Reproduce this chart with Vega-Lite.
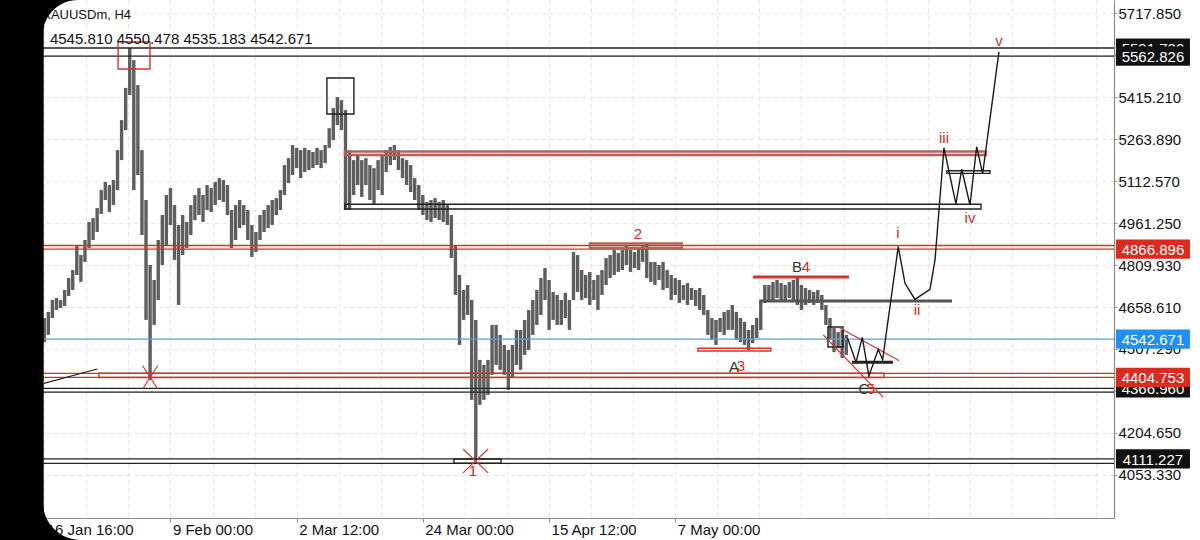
{
  "$schema": "https://vega.github.io/schema/vega-lite/v6.json",
  "width": 1114,
  "height": 518,
  "autosize": {"type": "none"},
  "padding": {"left": 0, "top": 0, "right": 86, "bottom": 22},
  "background": "white",
  "config": {"view": {"stroke": null}, "font": "Liberation Sans", "axis": {"title": null}},
  "resolve": {"axis": {"x": "independent"}},
  "datasets": {
    "one": [{}],
    "bars": [{"t":0,"hi":4619,"lo":4532},{"t":3,"hi":4641,"lo":4558},{"t":6,"hi":4684,"lo":4619},{"t":9,"hi":4691,"lo":4648},{"t":12,"hi":4684,"lo":4655},{"t":15,"hi":4720,"lo":4662},{"t":18,"hi":4763,"lo":4698},{"t":21,"hi":4792,"lo":4720},{"t":24,"hi":4882,"lo":4774},{"t":27,"hi":4846,"lo":4749},{"t":30,"hi":4900,"lo":4821},{"t":33,"hi":4965,"lo":4871},{"t":36,"hi":4979,"lo":4900},{"t":39,"hi":5015,"lo":4929},{"t":42,"hi":5080,"lo":4994},{"t":45,"hi":5109,"lo":5044},{"t":48,"hi":5098,"lo":5001},{"t":51,"hi":5116,"lo":5026},{"t":54,"hi":5224,"lo":5080},{"t":57,"hi":5332,"lo":5188},{"t":60,"hi":5448,"lo":5296},{"t":63,"hi":5592,"lo":5422},{"t":66,"hi":5548,"lo":5080},{"t":69,"hi":5458,"lo":5134},{"t":72,"hi":5224,"lo":4918},{"t":75,"hi":5044,"lo":4612},{"t":78,"hi":4810,"lo":4396},{"t":81,"hi":4756,"lo":4594},{"t":84,"hi":4900,"lo":4684},{"t":87,"hi":4990,"lo":4810},{"t":90,"hi":5062,"lo":4882},{"t":93,"hi":5087,"lo":4954},{"t":96,"hi":5026,"lo":4828},{"t":99,"hi":4954,"lo":4666},{"t":102,"hi":4990,"lo":4846},{"t":105,"hi":4965,"lo":4871},{"t":108,"hi":5026,"lo":4918},{"t":111,"hi":5062,"lo":4972},{"t":114,"hi":5087,"lo":4990},{"t":117,"hi":5062,"lo":4965},{"t":120,"hi":5098,"lo":5008},{"t":123,"hi":5087,"lo":5001},{"t":126,"hi":5109,"lo":5026},{"t":129,"hi":5123,"lo":5044},{"t":132,"hi":5116,"lo":5037},{"t":135,"hi":5098,"lo":4990},{"t":138,"hi":5008,"lo":4871},{"t":141,"hi":5026,"lo":4900},{"t":144,"hi":5044,"lo":4943},{"t":147,"hi":5026,"lo":4954},{"t":150,"hi":5008,"lo":4900},{"t":153,"hi":4954,"lo":4839},{"t":156,"hi":4929,"lo":4857},{"t":159,"hi":4990,"lo":4900},{"t":162,"hi":5008,"lo":4929},{"t":165,"hi":5026,"lo":4943},{"t":168,"hi":5044,"lo":4954},{"t":171,"hi":5051,"lo":4990},{"t":174,"hi":5080,"lo":5008},{"t":177,"hi":5170,"lo":5062},{"t":180,"hi":5195,"lo":5105},{"t":183,"hi":5242,"lo":5134},{"t":186,"hi":5232,"lo":5159},{"t":189,"hi":5224,"lo":5123},{"t":192,"hi":5232,"lo":5145},{"t":195,"hi":5224,"lo":5152},{"t":198,"hi":5217,"lo":5159},{"t":201,"hi":5232,"lo":5170},{"t":204,"hi":5224,"lo":5159},{"t":207,"hi":5242,"lo":5177},{"t":210,"hi":5303,"lo":5232},{"t":213,"hi":5376,"lo":5260},{"t":216,"hi":5415,"lo":5314},{"t":219,"hi":5404,"lo":5296},{"t":222,"hi":5368,"lo":5008},{"t":225,"hi":5224,"lo":5008},{"t":228,"hi":5188,"lo":5062},{"t":231,"hi":5206,"lo":5098},{"t":234,"hi":5188,"lo":5055},{"t":237,"hi":5195,"lo":5098},{"t":240,"hi":5170,"lo":5044},{"t":243,"hi":5159,"lo":5026},{"t":246,"hi":5188,"lo":5080},{"t":249,"hi":5206,"lo":5062},{"t":252,"hi":5224,"lo":5145},{"t":255,"hi":5235,"lo":5170},{"t":258,"hi":5242,"lo":5188},{"t":261,"hi":5224,"lo":5152},{"t":264,"hi":5195,"lo":5123},{"t":267,"hi":5188,"lo":5098},{"t":270,"hi":5170,"lo":5073},{"t":273,"hi":5123,"lo":5044},{"t":276,"hi":5098,"lo":5008},{"t":279,"hi":5062,"lo":4990},{"t":282,"hi":5037,"lo":4972},{"t":285,"hi":5044,"lo":4965},{"t":288,"hi":5051,"lo":4979},{"t":291,"hi":5037,"lo":4972},{"t":294,"hi":5044,"lo":4965},{"t":297,"hi":5026,"lo":4954},{"t":300,"hi":4990,"lo":4835},{"t":303,"hi":4882,"lo":4702},{"t":306,"hi":4774,"lo":4522},{"t":309,"hi":4720,"lo":4612},{"t":312,"hi":4738,"lo":4630},{"t":315,"hi":4684,"lo":4324},{"t":318,"hi":4612,"lo":4107},{"t":321,"hi":4468,"lo":4306},{"t":324,"hi":4450,"lo":4324},{"t":327,"hi":4468,"lo":4342},{"t":330,"hi":4594,"lo":4414},{"t":333,"hi":4594,"lo":4450},{"t":336,"hi":4558,"lo":4432},{"t":339,"hi":4522,"lo":4414},{"t":342,"hi":4504,"lo":4360},{"t":345,"hi":4522,"lo":4403},{"t":348,"hi":4576,"lo":4450},{"t":351,"hi":4576,"lo":4432},{"t":354,"hi":4612,"lo":4486},{"t":357,"hi":4648,"lo":4504},{"t":360,"hi":4684,"lo":4558},{"t":363,"hi":4720,"lo":4594},{"t":366,"hi":4763,"lo":4630},{"t":369,"hi":4799,"lo":4684},{"t":372,"hi":4756,"lo":4576},{"t":375,"hi":4713,"lo":4612},{"t":378,"hi":4702,"lo":4594},{"t":381,"hi":4684,"lo":4594},{"t":384,"hi":4709,"lo":4619},{"t":387,"hi":4684,"lo":4576},{"t":390,"hi":4857,"lo":4684},{"t":393,"hi":4846,"lo":4713},{"t":396,"hi":4792,"lo":4684},{"t":399,"hi":4774,"lo":4691},{"t":402,"hi":4785,"lo":4666},{"t":405,"hi":4756,"lo":4684},{"t":408,"hi":4774,"lo":4648},{"t":411,"hi":4792,"lo":4702},{"t":414,"hi":4835,"lo":4738},{"t":417,"hi":4846,"lo":4763},{"t":420,"hi":4864,"lo":4774},{"t":423,"hi":4853,"lo":4785},{"t":426,"hi":4864,"lo":4792},{"t":429,"hi":4882,"lo":4810},{"t":432,"hi":4864,"lo":4785},{"t":435,"hi":4857,"lo":4799},{"t":438,"hi":4871,"lo":4792},{"t":441,"hi":4882,"lo":4821},{"t":444,"hi":4889,"lo":4763},{"t":447,"hi":4821,"lo":4749},{"t":450,"hi":4821,"lo":4738},{"t":453,"hi":4810,"lo":4756},{"t":456,"hi":4821,"lo":4720},{"t":459,"hi":4792,"lo":4727},{"t":462,"hi":4774,"lo":4684},{"t":465,"hi":4763,"lo":4702},{"t":468,"hi":4756,"lo":4673},{"t":471,"hi":4738,"lo":4684},{"t":474,"hi":4745,"lo":4666},{"t":477,"hi":4727,"lo":4684},{"t":480,"hi":4720,"lo":4662},{"t":483,"hi":4727,"lo":4648},{"t":486,"hi":4702,"lo":4630},{"t":489,"hi":4648,"lo":4558},{"t":492,"hi":4619,"lo":4540},{"t":495,"hi":4612,"lo":4522},{"t":498,"hi":4619,"lo":4568},{"t":501,"hi":4641,"lo":4558},{"t":504,"hi":4648,"lo":4576},{"t":507,"hi":4666,"lo":4576},{"t":510,"hi":4641,"lo":4540},{"t":513,"hi":4619,"lo":4532},{"t":516,"hi":4605,"lo":4522},{"t":519,"hi":4576,"lo":4504},{"t":522,"hi":4594,"lo":4529},{"t":525,"hi":4619,"lo":4547},{"t":528,"hi":4684,"lo":4576},{"t":531,"hi":4738,"lo":4673},{"t":534,"hi":4738,"lo":4684},{"t":537,"hi":4749,"lo":4677},{"t":540,"hi":4756,"lo":4691},{"t":543,"hi":4745,"lo":4684},{"t":546,"hi":4738,"lo":4684},{"t":549,"hi":4749,"lo":4691},{"t":552,"hi":4756,"lo":4684},{"t":555,"hi":4767,"lo":4666},{"t":558,"hi":4738,"lo":4648},{"t":561,"hi":4727,"lo":4666},{"t":564,"hi":4720,"lo":4673},{"t":567,"hi":4713,"lo":4666},{"t":570,"hi":4720,"lo":4673},{"t":573,"hi":4702,"lo":4648},{"t":576,"hi":4666,"lo":4594},{"t":579,"hi":4619,"lo":4540},{"t":582,"hi":4583,"lo":4496},{"t":585,"hi":4568,"lo":4511},{"t":588,"hi":4576,"lo":4475},{"t":591,"hi":4558,"lo":4486}],
    "hlines": [{"p":5591.7,"kind":"black"},{"p":5562.826,"kind":"black"},{"p":4880.2,"kind":"red"},{"p":4866.896,"kind":"red"},{"p":4419.7,"kind":"red"},{"p":4404.753,"kind":"red"},{"p":4365.6,"kind":"black"},{"p":4352.2,"kind":"black"},{"p":4111.227,"kind":"black"},{"p":4095.5,"kind":"black"},{"p":4542.671,"kind":"blue"}],
    "rects": [{"x1":54.4,"x2":77.9,"p1":5613.4,"p2":5516.1,"kind":"red"},{"x1":208.3,"x2":228.2,"p1":5483.7,"p2":5354.0,"kind":"black"},{"x1":221.6,"x2":690.3,"p1":5028.6,"p2":5011.7,"kind":"black"},{"x1":481.7,"x2":535.5,"p1":4509.8,"p2":4500.1,"kind":"red"},{"x1":40.3,"x2":618.8,"p1":4419.7,"p2":4404.7,"kind":"red"},{"x1":301.9,"x2":336.6,"p1":4111.2,"p2":4095.5,"kind":"black"},{"x1":665.2,"x2":696.9,"p1":5149.7,"p2":5140.2,"kind":"black"},{"x1":577.5,"x2":588.6,"p1":4586.6,"p2":4514.6,"kind":"black"}],
    "bands": [{"x1":221.6,"x2":694.0,"p1":5218.8,"p2":5206.2,"kind":"brown"},{"x1":402.1,"x2":469.9,"p1":4887.4,"p2":4871.2,"kind":"brown"}],
    "thick": [{"x1":522.3,"x2":593.0,"p1":4766.7,"p2":4766.7,"kind":"red"},{"x1":527.4,"x2":668.9,"p1":4680,"p2":4680,"kind":"gray"},{"x1":595.2,"x2":625.4,"p1":4459.4,"p2":4459.4,"kind":"black"}],
    "segs": [{"x1":584.6,"p1":4587.6,"x2":630.1,"p2":4465.1,"kind":"red"},{"x1":574.1,"p1":4557.7,"x2":618.3,"p2":4333.3,"kind":"red"},{"x1":-0.2,"p1":4383.7,"x2":39.1,"p2":4435.2,"kind":"black"},{"x1":72.5,"p1":4447,"x2":83.6,"p2":4363,"kind":"red"},{"x1":72.5,"p1":4363,"x2":83.6,"p2":4447,"kind":"red"},{"x1":308.6,"p1":4147,"x2":327.1,"p2":4061,"kind":"red"},{"x1":308.6,"p1":4061,"x2":327.1,"p2":4147,"kind":"red"}],
    "path": [{"o":1,"t":592.0,"p":4546},{"o":2,"t":598.2,"p":4459},{"o":3,"t":602.8,"p":4549},{"o":4,"t":607.7,"p":4410},{"o":5,"t":614.6,"p":4506},{"o":6,"t":617.8,"p":4468},{"o":7,"t":629.3,"p":4876},{"o":8,"t":634.3,"p":4744},{"o":9,"t":641.6,"p":4686},{"o":10,"t":652.7,"p":4722},{"o":11,"t":656.4,"p":4828},{"o":12,"t":663.0,"p":5232},{"o":13,"t":671.8,"p":5030},{"o":14,"t":676.1,"p":5155},{"o":15,"t":682.2,"p":5026},{"o":16,"t":687.1,"p":5236},{"o":17,"t":691.5,"p":5138},{"o":18,"t":703.5,"p":5578}],
    "labels": [{"t":437.5,"p":4922,"txt":"2","kind":"labelred"},{"t":554.7,"p":4803,"txt":"B","kind":"labeldark"},{"t":561.3,"p":4803,"txt":"4","kind":"labelred"},{"t":508.3,"p":4442,"txt":"A","kind":"labeldark"},{"t":513.4,"p":4446,"txt":"3","kind":"labelred"},{"t":604.0,"p":4363,"txt":"C","kind":"labeldark"},{"t":609.2,"p":4363,"txt":"5","kind":"labelred"},{"t":315.9,"p":4068,"txt":"1","kind":"labelred"},{"t":629,"p":4925,"txt":"i","kind":"labelred"},{"t":643.1,"p":4648,"txt":"ii","kind":"labelred"},{"t":663,"p":5268,"txt":"iii","kind":"labelred"},{"t":682.2,"p":4979,"txt":"iv","kind":"labelred"},{"t":703.5,"p":5617,"txt":"v","kind":"labelred"}],
    "tagsBack": [{"p":5591.7,"txt":"5591.720","kind":"tagblack"},{"p":4366.96,"txt":"4366.960","kind":"tagblack"}],
    "tagsFront": [{"p":5562.826,"txt":"5562.826","kind":"tagblack"},{"p":4866.896,"txt":"4866.896","kind":"tagred"},{"p":4542.671,"txt":"4542.671","kind":"tagblue"},{"p":4404.753,"txt":"4404.753","kind":"tagred"},{"p":4111.227,"txt":"4111.227","kind":"tagblack"}]
  },
  "layer": [
    {
      "data": {"name": "bars"},
      "mark": {"type": "rule", "color": "#5e5e5e", "strokeWidth": 3.4},
      "encoding": {
        "x": {"field": "t", "type": "quantitative",
          "scale": {"domain": [-32.6, 788.3], "nice": false, "zero": false},
          "axis": {"title": null, "orient": "bottom", "values": [0, 93, 186, 279, 372, 465],
            "labelExpr": "datum.value === 0 ? '16 Jan 16:00' : datum.value === 93 ? '9 Feb 00:00' : datum.value === 186 ? '2 Mar 12:00' : datum.value === 279 ? '24 Mar 00:00' : datum.value === 372 ? '15 Apr 12:00' : '7 May 00:00'",
            "labelAlign": "left", "labelBaseline": "top", "labelOffset": 2, "labelPadding": 0, "labelFontSize": 15, "labelColor": "#111111", "labelFont": "Liberation Sans",
            "labelFlush": false, "labelOverlap": false, "labelBound": false,
            "grid": false, "domainColor": "#8a8a8a", "domainWidth": 1.2, "tickColor": "#8a8a8a", "tickSize": 4}},
        "y": {"field": "lo", "type": "quantitative",
          "scale": {"domain": [3898.4, 5764.7], "nice": false, "zero": false},
          "axis": {"title": null, "orient": "right", "values": [4053.33, 4204.65, 4355.97, 4507.29, 4658.61, 4809.93, 4961.25, 5112.57, 5263.89, 5415.21, 5566.53, 5717.85],
            "format": ".3f", "labelAlign": "left", "labelBaseline": "middle", "labelPadding": 1, "labelFontSize": 15, "labelColor": "#111111", "labelFont": "Liberation Sans",
            "labelFlush": false, "labelOverlap": false, "labelBound": false,
            "grid": true, "gridColor": "#e2e2e2", "gridDash": [4, 4], "gridWidth": 1,
            "domainColor": "#8a8a8a", "domainWidth": 1.2, "tickColor": "#9a9a9a", "tickSize": 3}},
        "y2": {"field": "hi"}
      }
    },
    {
      "data": {"name": "hlines"},
      "mark": {"type": "rule", "strokeWidth": 1.3},
      "encoding": {
        "y": {"field": "p", "type": "quantitative"},
        "color": {"field": "kind", "type": "nominal", "legend": null,
          "scale": {"domain": ["black","red","brown","blue","gray","tagblack","tagred","tagblue","labelred","labeldark"], "range": ["#222222","#d0362c","#b4635b","#5f9fd0","#555555","#111111","#dc2a1e","#2190f0","#d42a20","#333333"]}}
      }
    },
    {
      "data": {"name": "rects"},
      "mark": {"type": "rect", "filled": false, "strokeWidth": 1.4, "clip": true},
      "encoding": {
        "x": {"field": "x1", "type": "quantitative",
          "axis": {"title": null, "orient": "bottom", "values": [-31,0,31,62,93,124,155,186,217,248,279,310,341,372,403,434,465,496,527,558,589,620,651,682,713,744,775],
            "labels": false, "ticks": false, "domain": false, "grid": true, "gridColor": "#e2e2e2", "gridDash": [4, 4], "gridWidth": 1}},
        "x2": {"field": "x2"},
        "y": {"field": "p1", "type": "quantitative"},
        "y2": {"field": "p2"},
        "color": {"field": "kind", "type": "nominal", "legend": null,
          "scale": {"domain": ["black","red","brown","blue","gray","tagblack","tagred","tagblue","labelred","labeldark"], "range": ["#222222","#d0362c","#b4635b","#5f9fd0","#555555","#111111","#dc2a1e","#2190f0","#d42a20","#333333"]}}
      }
    },
    {
      "data": {"name": "bands"},
      "mark": {"type": "rect", "filled": false, "strokeWidth": 2.4},
      "encoding": {
        "x": {"field": "x1", "type": "quantitative", "axis": null},
        "x2": {"field": "x2"},
        "y": {"field": "p1", "type": "quantitative"},
        "y2": {"field": "p2"},
        "color": {"field": "kind", "type": "nominal", "legend": null,
          "scale": {"domain": ["black","red","brown","blue","gray","tagblack","tagred","tagblue","labelred","labeldark"], "range": ["#222222","#d0362c","#b4635b","#5f9fd0","#555555","#111111","#dc2a1e","#2190f0","#d42a20","#333333"]}}
      }
    },
    {
      "data": {"name": "thick"},
      "mark": {"type": "rule", "strokeWidth": 3},
      "encoding": {
        "x": {"field": "x1", "type": "quantitative", "axis": null},
        "x2": {"field": "x2"},
        "y": {"field": "p1", "type": "quantitative"},
        "y2": {"field": "p2"},
        "color": {"field": "kind", "type": "nominal", "legend": null,
          "scale": {"domain": ["black","red","brown","blue","gray","tagblack","tagred","tagblue","labelred","labeldark"], "range": ["#222222","#d0362c","#b4635b","#5f9fd0","#555555","#111111","#dc2a1e","#2190f0","#d42a20","#333333"]}}
      }
    },
    {
      "data": {"name": "segs"},
      "mark": {"type": "rule", "strokeWidth": 1.2},
      "encoding": {
        "x": {"field": "x1", "type": "quantitative", "axis": null},
        "x2": {"field": "x2"},
        "y": {"field": "p1", "type": "quantitative"},
        "y2": {"field": "p2"},
        "color": {"field": "kind", "type": "nominal", "legend": null,
          "scale": {"domain": ["black","red","brown","blue","gray","tagblack","tagred","tagblue","labelred","labeldark"], "range": ["#222222","#d0362c","#b4635b","#5f9fd0","#555555","#111111","#dc2a1e","#2190f0","#d42a20","#333333"]}}
      }
    },
    {
      "data": {"name": "path"},
      "mark": {"type": "line", "color": "#1a1a1a", "strokeWidth": 1.4},
      "encoding": {
        "x": {"field": "t", "type": "quantitative", "axis": null},
        "y": {"field": "p", "type": "quantitative"},
        "order": {"field": "o", "type": "quantitative"}
      }
    },
    {
      "data": {"name": "labels"},
      "mark": {"type": "text", "fontSize": 15, "font": "Liberation Sans", "align": "center", "baseline": "middle"},
      "encoding": {
        "x": {"field": "t", "type": "quantitative", "axis": null},
        "y": {"field": "p", "type": "quantitative"},
        "text": {"field": "txt"},
        "color": {"field": "kind", "type": "nominal", "legend": null,
          "scale": {"domain": ["black","red","brown","blue","gray","tagblack","tagred","tagblue","labelred","labeldark"], "range": ["#222222","#d0362c","#b4635b","#5f9fd0","#555555","#111111","#dc2a1e","#2190f0","#d42a20","#333333"]}}
      }
    },
    {
      "data": {"name": "tagsBack"},
      "mark": {"type": "point", "filled": true, "opacity": 1, "size": 5476, "shape": "M-1,-0.26H1V0.26H-1Z", "strokeWidth": 0},
      "encoding": {
        "x": {"datum": 817.0, "type": "quantitative", "axis": null},
        "y": {"field": "p", "type": "quantitative"},
        "color": {"field": "kind", "type": "nominal", "legend": null,
          "scale": {"domain": ["black","red","brown","blue","gray","tagblack","tagred","tagblue","labelred","labeldark"], "range": ["#222222","#d0362c","#b4635b","#5f9fd0","#555555","#111111","#dc2a1e","#2190f0","#d42a20","#333333"]}}
      }
    },
    {
      "data": {"name": "tagsBack"},
      "mark": {"type": "text", "fontSize": 15, "font": "Liberation Sans", "color": "white", "align": "center", "baseline": "middle", "dy": 1},
      "encoding": {
        "x": {"datum": 817.0, "type": "quantitative", "axis": null},
        "y": {"field": "p", "type": "quantitative"},
        "text": {"field": "txt"}
      }
    },
    {
      "data": {"name": "tagsFront"},
      "mark": {"type": "point", "filled": true, "opacity": 1, "size": 5476, "shape": "M-1,-0.26H1V0.26H-1Z", "strokeWidth": 0},
      "encoding": {
        "x": {"datum": 817.0, "type": "quantitative", "axis": null},
        "y": {"field": "p", "type": "quantitative"},
        "color": {"field": "kind", "type": "nominal", "legend": null,
          "scale": {"domain": ["black","red","brown","blue","gray","tagblack","tagred","tagblue","labelred","labeldark"], "range": ["#222222","#d0362c","#b4635b","#5f9fd0","#555555","#111111","#dc2a1e","#2190f0","#d42a20","#333333"]}}
      }
    },
    {
      "data": {"name": "tagsFront"},
      "mark": {"type": "text", "fontSize": 15, "font": "Liberation Sans", "color": "white", "align": "center", "baseline": "middle", "dy": 1},
      "encoding": {
        "x": {"datum": 817.0, "type": "quantitative", "axis": null},
        "y": {"field": "p", "type": "quantitative"},
        "text": {"field": "txt"}
      }
    },
    {
      "data": {"name": "one"},
      "mark": {"type": "text", "fontSize": 13, "font": "Liberation Sans", "color": "#111111", "align": "left", "baseline": "middle"},
      "encoding": {
        "x": {"datum": -1.5, "type": "quantitative", "axis": null},
        "y": {"datum": 5710, "type": "quantitative"},
        "text": {"value": "XAUUSDm, H4"}
      }
    },
    {
      "data": {"name": "one"},
      "mark": {"type": "text", "fontSize": 15, "font": "Liberation Sans", "color": "#111111", "align": "left", "baseline": "middle"},
      "encoding": {
        "x": {"datum": 4.2, "type": "quantitative", "axis": null},
        "y": {"datum": 5624, "type": "quantitative"},
        "text": {"value": "4545.810 4550.478 4535.183 4542.671"}
      }
    },
    {
      "data": {"name": "one"},
      "mark": {"type": "rect", "color": "#000000"},
      "encoding": {
        "x": {"datum": -40, "type": "quantitative", "axis": null},
        "x2": {"datum": -0.4},
        "y": {"datum": 5800, "type": "quantitative"},
        "y2": {"datum": 3780}
      }
    },
    {
      "data": {"name": "one"},
      "mark": {"type": "point", "filled": true, "opacity": 1, "color": "#000000", "size": 1225, "shape": "M-1,-1L1,-1A2,2,0,0,0,-1,1Z", "strokeWidth": 0},
      "encoding": {
        "x": {"datum": 11.9, "type": "quantitative", "axis": null},
        "y": {"datum": 5701.6, "type": "quantitative"}
      }
    },
    {
      "data": {"name": "one"},
      "mark": {"type": "point", "filled": true, "opacity": 1, "color": "#000000", "size": 1444, "shape": "M-1,1L-1,-1A2,2,0,0,0,1,1Z", "strokeWidth": 0},
      "encoding": {
        "x": {"datum": 13.0, "type": "quantitative", "axis": null},
        "y": {"datum": 3887.6, "type": "quantitative"}
      }
    }
  ]
}
